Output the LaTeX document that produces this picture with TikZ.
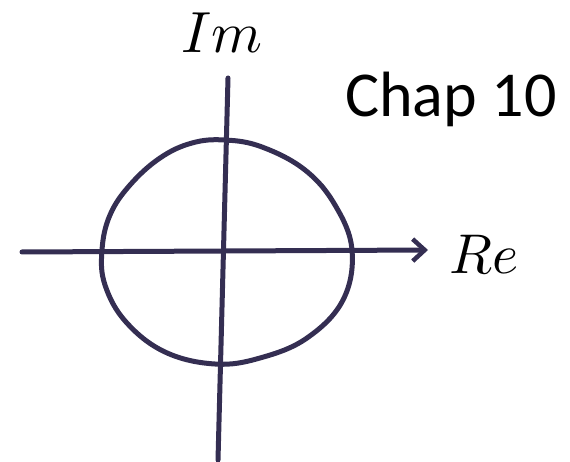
\documentclass[tikz,border=0pt]{standalone}
\usepackage{fontspec}
\usepackage{unicode-math}
\setmathfont{Latin Modern Math}
\newfontfamily\chapfont{Carlito}
\usetikzlibrary{arrows.meta}
\definecolor{ink}{RGB}{52,46,82}
\tikzset{
  axisline/.style={draw=ink, line width=5pt, line cap=round, line join=round},
  lbl/.style={inner sep=0pt, anchor=base},
}
\begin{document}
\begin{tikzpicture}[x=1pt,y=-1pt]
\useasboundingbox (0,0) rectangle (570,462);
\coordinate (xl) at (22,252);
\coordinate (xr) at (428,250);
\coordinate (yt) at (228,78);
\coordinate (yb) at (218,460);
\draw[axisline] plot[smooth cycle, tension=0.65] coordinates {
 (225,140) (262,147) (305,170) (335,205) (352,250) (343,300) (307,338)
 (260,358) (215,364) (165,352) (126,322) (105,285) (102,250) (110,215)
 (130,185) (160,158) (192,143)};
\draw[axisline] (yt) -- (yb);
\draw[axisline, -{Straight Barb[length=12pt,width=22pt,line width=4.5pt]}] (xl) -- (xr);
\node[lbl] (im) at (222,53) {\fontsize{58}{60}\selectfont $Im$};
\node[lbl, anchor=base west] (re) at (449,273) {\fontsize{56}{60}\selectfont $Re$};
\node[lbl, anchor=base west] (chap) at (345,117) {\chapfont\fontsize{64}{66}\selectfont Chap 10};
\end{tikzpicture}
\end{document}
